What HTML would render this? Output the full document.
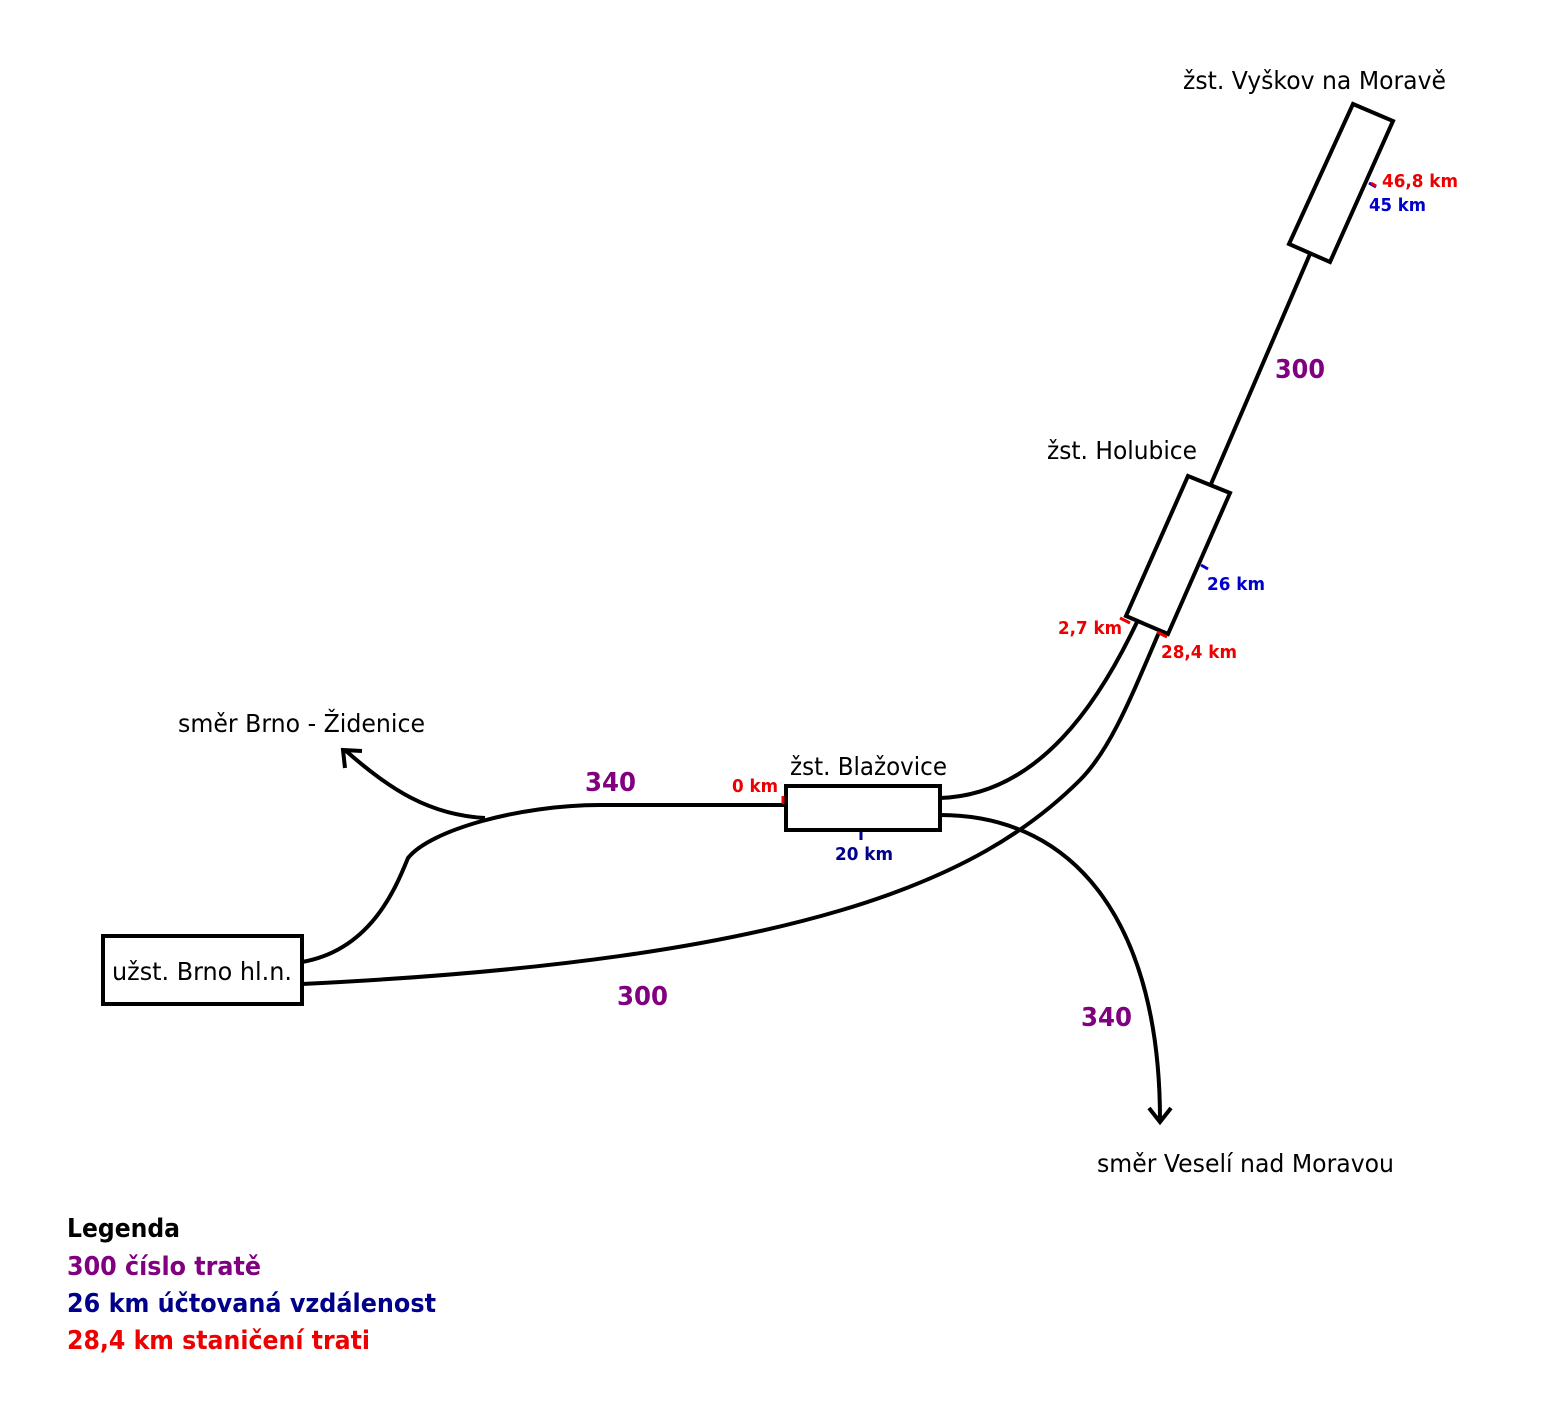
<!DOCTYPE html>
<html><head><meta charset="utf-8">
<style>
html,body{margin:0;padding:0;background:#fff;}
svg{display:block;}
text{font-family:"DejaVu Sans","Liberation Sans",sans-serif;}
</style></head>
<body>
<svg width="1557" height="1425" viewBox="0 0 1557 1425" xmlns="http://www.w3.org/2000/svg">
<g fill="none" stroke="#000" stroke-width="4">
  <line x1="1310" y1="254" x2="1211" y2="484"/>
  <path d="M1137,622 C1100,700 1040,795 940,798"/>
  <path d="M1160,630 C1130,700 1110,750 1080,780 C980,880 800,960 302,984"/>
  <path d="M786,805 L600,805 C520,805 430,830 408,858 C395,890 370,950 302,962"/>
  <path d="M485,818 C430,815 390,790 345,750"/>
  <path d="M345,768 L343,750 L362,751"/>
  <path d="M940,815 C1080,815 1160,930 1160,1120"/>
  <path d="M1149,1108 L1160,1122 L1171,1108"/>
</g>
<rect x="103" y="936" width="199" height="68" fill="#fff" stroke="#000" stroke-width="4"/>
<rect x="786" y="786" width="154" height="44" fill="#fff" stroke="#000" stroke-width="4"/>
<polygon points="1188,476 1230,493 1168,634 1126,616" fill="#fff" stroke="#000" stroke-width="4"/>
<polygon points="1353,104 1393,121 1330,262 1289,244" fill="#fff" stroke="#000" stroke-width="4"/>
<g stroke-width="3">
  <line x1="783" y1="796" x2="783" y2="804" stroke="#e00"/>
  <line x1="861" y1="832" x2="861" y2="840" stroke="#00008b"/>
  <line x1="1120" y1="618" x2="1130" y2="623" stroke="#e00"/>
  <line x1="1157" y1="632" x2="1167" y2="637" stroke="#e00"/>
  <line x1="1201" y1="565" x2="1208" y2="569" stroke="#0000cc"/>
  <line x1="1369" y1="183" x2="1376" y2="187" stroke="#0000cc"/>
  <line x1="1371" y1="183" x2="1376" y2="186" stroke="#e00"/>
</g>
<g font-size="25" fill="#000">
  <text x="1183" y="89" textLength="263" lengthAdjust="spacingAndGlyphs">žst. Vyškov na Moravě</text>
  <text x="1047" y="459" textLength="150" lengthAdjust="spacingAndGlyphs">žst. Holubice</text>
  <text x="790" y="775" textLength="157" lengthAdjust="spacingAndGlyphs">žst. Blažovice</text>
  <text x="178" y="732" textLength="247" lengthAdjust="spacingAndGlyphs">směr Brno - Židenice</text>
  <text x="112" y="980" textLength="180" lengthAdjust="spacingAndGlyphs">užst. Brno hl.n.</text>
  <text x="1097" y="1172" textLength="297" lengthAdjust="spacingAndGlyphs">směr Veselí nad Moravou</text>
</g>
<g font-size="26" font-weight="bold" fill="#800080">
  <text x="1275" y="378" textLength="50" lengthAdjust="spacingAndGlyphs">300</text>
  <text x="585" y="791" textLength="51" lengthAdjust="spacingAndGlyphs">340</text>
  <text x="617" y="1005" textLength="51" lengthAdjust="spacingAndGlyphs">300</text>
  <text x="1081" y="1026" textLength="51" lengthAdjust="spacingAndGlyphs">340</text>
</g>
<g font-size="18" font-weight="bold">
  <text x="1382" y="187" fill="#e00" textLength="76" lengthAdjust="spacingAndGlyphs">46,8 km</text>
  <text x="1369" y="211" fill="#0000cc" textLength="57" lengthAdjust="spacingAndGlyphs">45 km</text>
  <text x="1207" y="590" fill="#0000cc" textLength="58" lengthAdjust="spacingAndGlyphs">26 km</text>
  <text x="1058" y="634" fill="#e00" textLength="64" lengthAdjust="spacingAndGlyphs">2,7 km</text>
  <text x="1161" y="658" fill="#e00" textLength="76" lengthAdjust="spacingAndGlyphs">28,4 km</text>
  <text x="732" y="792" fill="#e00" textLength="46" lengthAdjust="spacingAndGlyphs">0 km</text>
  <text x="835" y="860" fill="#00008b" textLength="58" lengthAdjust="spacingAndGlyphs">20 km</text>
</g>
<g font-size="26" font-weight="bold">
  <text x="67" y="1237" fill="#000" textLength="113" lengthAdjust="spacingAndGlyphs">Legenda</text>
  <text x="67" y="1275" fill="#800080" textLength="194" lengthAdjust="spacingAndGlyphs">300 číslo tratě</text>
  <text x="67" y="1312" fill="#00008b" textLength="369" lengthAdjust="spacingAndGlyphs">26 km účtovaná vzdálenost</text>
  <text x="67" y="1349" fill="#e00" textLength="303" lengthAdjust="spacingAndGlyphs">28,4 km staničení trati</text>
</g>
</svg>
</body></html>
